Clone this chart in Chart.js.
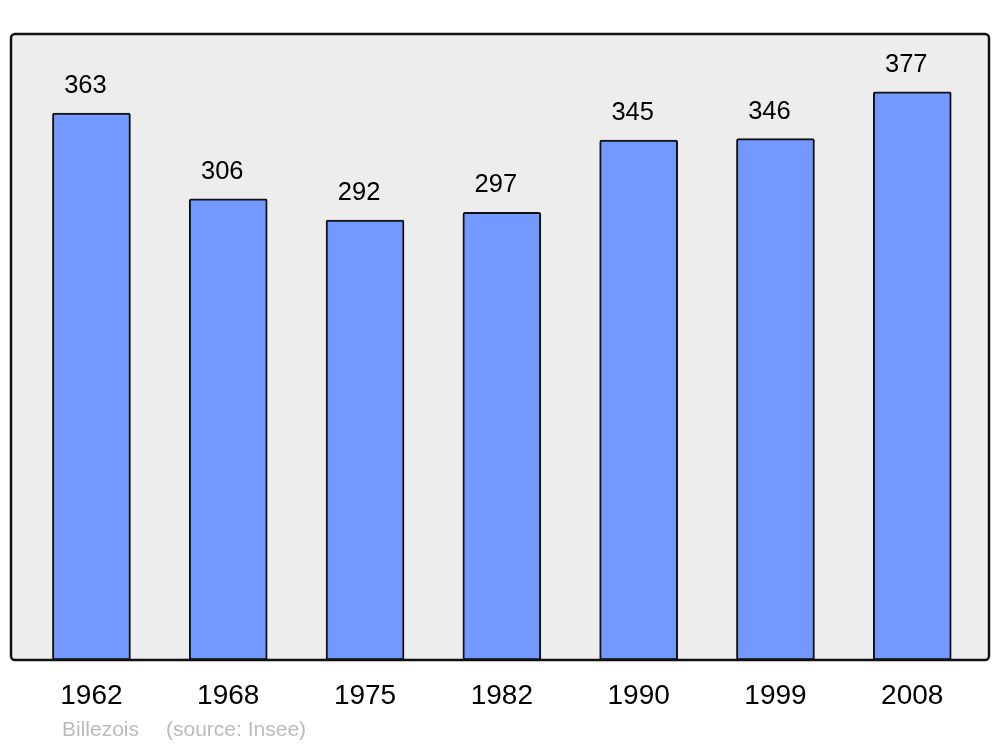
<!DOCTYPE html>
<html>
<head>
<meta charset="utf-8">
<script src="https://cdn.jsdelivr.net/npm/chart.js@4/dist/chart.umd.min.js"></script>
<style>
  body { margin: 0; background: #fff; }
  #wrap { width: 1000px; height: 747px; }
</style>
</head>
<body>
<div id="wrap"><canvas id="myChart" width="1000" height="747"></canvas></div>
<script>
'use strict';
const years = ['1962', '1968', '1975', '1982', '1990', '1999', '2008'];
const population = [363, 306, 292, 297, 345, 346, 377];
const footer = 'Billezois';
const source = '(source: Insee)';

// frame around the plot, labels above bars and under them
const framePlugin = {
  id: 'frame',
  beforeDatasetsDraw(chart) {
    const a = chart.chartArea;
    const ctx = chart.ctx;
    ctx.save();
    ctx.fillStyle = '#ededed';
    ctx.beginPath();
    ctx.roundRect(a.left, a.top, a.right - a.left, a.bottom - a.top, 4);
    ctx.fill();
    ctx.restore();
  },
  afterDatasetsDraw(chart) {
    const a = chart.chartArea;
    const ctx = chart.ctx;
    const xs = chart.scales.x;
    const ys = chart.scales.y;
    ctx.save();
    ctx.strokeStyle = '#111';
    ctx.lineWidth = 2.5;
    ctx.beginPath();
    ctx.roundRect(a.left, a.top, a.right - a.left, a.bottom - a.top, 4);
    ctx.stroke();

    ctx.fillStyle = '#000';
    ctx.textAlign = 'center';
    ctx.textBaseline = 'middle';
    ctx.font = '25.5px "Liberation Sans", Arial, sans-serif';
    for (let i = 0; i < population.length; i++) {
      ctx.fillText(String(population[i]), xs.getPixelForValue(i) - 6, ys.getPixelForValue(population[i]) - 27);
    }
    ctx.font = '28px "Liberation Sans", Arial, sans-serif';
    for (let i = 0; i < years.length; i++) {
      ctx.fillText(years[i], xs.getPixelForValue(i), a.bottom + 36);
    }
    ctx.fillStyle = '#bbbbbb';
    ctx.textAlign = 'left';
    ctx.font = '21px "Liberation Sans", Arial, sans-serif';
    ctx.fillText(footer, 62, a.bottom + 70);
    ctx.fillText(source, 166, a.bottom + 70);
    ctx.restore();
  }
};

const ctx = document.getElementById('myChart').getContext('2d');
const chart = new Chart(ctx, {
  type: 'bar',
  data: {
    datasets: [{
      data: population.map((v, i) => ({ x: i, y: v })),
      backgroundColor: '#7399ff',
      borderColor: '#111',
      borderWidth: 2,
      borderRadius: 2,
      borderSkipped: false,
      barThickness: 78
    }]
  },
  options: {
    responsive: false,
    animation: false,
    layout: { padding: { left: 11, right: 11, top: 34, bottom: 87 } },
    plugins: { legend: { display: false }, tooltip: { enabled: false } },
    scales: {
      x: { type: 'linear', display: false, offset: false, min: -0.588, max: 6.561 },
      y: { display: false, min: 0, max: 415.4 }
    }
  },
  plugins: [framePlugin]
});
</script>
</body>
</html>
